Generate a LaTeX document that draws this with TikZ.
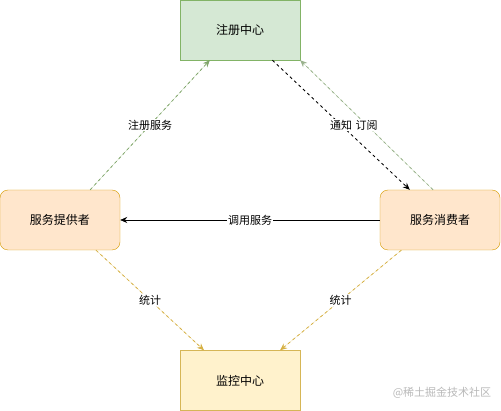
\documentclass[tikz,border=0pt]{standalone}
\usepackage{fontspec}
\newfontfamily\cjk{Noto Sans CJK SC}
\usetikzlibrary{arrows.meta}
\definecolor{greenfill}{HTML}{D5E8D4}
\definecolor{greenline}{HTML}{82B366}
\definecolor{orangefill}{HTML}{FFE6CC}
\definecolor{orangeline}{HTML}{D79B00}
\definecolor{yellowfill}{HTML}{FFF2CC}
\definecolor{yellowline}{HTML}{D6B656}
\tikzset{
  box/.style={draw, minimum width=120pt, minimum height=60pt, inner sep=0pt, font=\cjk\fontsize{12}{14}\selectfont},
  regbox/.style={box, fill=greenfill, draw=greenline},
  rolebox/.style={box, rounded corners=8pt, fill=orangefill, draw=orangeline},
  monbox/.style={box, fill=yellowfill, draw=yellowline},
  lbl/.style={fill=white, inner sep=1pt, font=\cjk\fontsize{11}{13}\selectfont},
  link/.style={-{Stealth[length=7pt,width=6pt]}, line width=0.7pt},
  dlink/.style={link, line width=0.8pt, dash pattern=on 3pt off 3pt},
}
\begin{document}
\begin{tikzpicture}[x=1pt,y=-1pt]
        \useasboundingbox (0,0) rectangle (501,411);
        % boxes
        \node[regbox] (reg) at (240,30) {注册中心};
        \node[rolebox] (prov) at (60,220) {服务提供者};
        \node[rolebox] (cons) at (440,220) {服务消费者};
        \node[monbox] (mon) at (240,380.5) {监控中心};
        % registry links
        \draw[dlink, draw=greenline!75!gray, fill=greenline] (prov.45) -- node[lbl] {注册服务} (reg.225);
        \draw[dlink, black] (reg.-43) -- node[lbl] {通知} (cons.135);
        \draw[dlink, draw=greenline!60!gray!80, fill=greenline] (cons.103) -- node[lbl] {订阅} (reg.south east);
        % call
        \draw[link] (cons.west) -- node[lbl] {调用服务} (prov.east);
        % statistics
        \draw[dlink, draw=yellowline!80!orangeline, fill=yellowline!80!orangeline] (prov.-40) -- node[lbl] {统计} (mon.140);
        \draw[dlink, draw=yellowline!80!orangeline, fill=yellowline!80!orangeline] (cons.218) -- node[lbl] {统计} (mon.37);
        % watermark
        \node[font=\cjk\fontsize{11}{13}\selectfont, text=gray!55] (mark) at (442,393) {@稀土掘金技术社区};
\end{tikzpicture}
\end{document}
